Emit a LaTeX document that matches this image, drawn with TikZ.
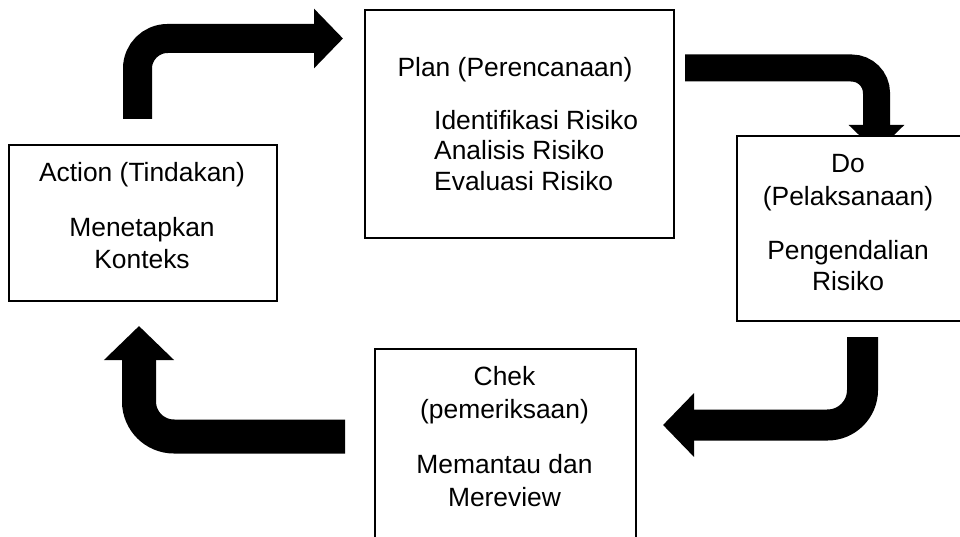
\documentclass[tikz,border=0pt]{standalone}
\usepackage{fontspec}
\setmainfont{Liberation Sans}
\usetikzlibrary{arrows.meta}
\tikzstyle{box} = [rectangle, draw=black, line width=2pt, fill=white, anchor=north west, inner sep=0pt]
\tikzstyle{boxtext} = [font=\fontsize{26.4}{32}\selectfont, align=center, anchor=base, inner sep=0pt]
\tikzstyle{bigarrow} = [-{Triangle[width=0pt 2, length=0pt 1]}]

\begin{document}
\begin{tikzpicture}[x=1pt, y=-1pt]
\useasboundingbox (0,0) rectangle (960,537);
% arrow ends
\coordinate (actout) at (137.5,119);
\coordinate (planin) at (343,38.5);
\coordinate (planout) at (685,68);
\coordinate (doin) at (876.5,152);
\coordinate (doout) at (862.5,337);
\coordinate (chekin) at (663,425);
\coordinate (chekout) at (345,436.5);
\coordinate (actin) at (139,326);
% the four arrows of the cycle
\draw [bigarrow, line width=29pt, rounded corners=30pt] (actout) |- (planin);
\draw [bigarrow, line width=27pt, rounded corners=25pt] (planout) -| (doin);
\draw [bigarrow, line width=31pt, rounded corners=35pt] (doout) |- (chekin);
\draw [bigarrow, line width=34pt, rounded corners=35pt] (chekout) -| (actin);
% boxes
\node (actionbox) [box, minimum width=268pt, minimum height=156pt] at (8,144) {};
\node (planbox) [box, minimum width=309pt, minimum height=228pt] at (364,9) {};
\node (dobox) [box, minimum width=230pt, minimum height=185pt] at (736,135) {};
\node (chekbox) [box, minimum width=261pt, minimum height=220pt] at (374,348) {};
% texts (base = last line)
\node (actiontext) [boxtext] at (142,268) {Action (Tindakan)\\[22pt]Menetapkan\\Konteks};
\node (plantitle) [boxtext] at (515,77) {Plan (Perencanaan)};
\node (planlist) [boxtext, font=\fontsize{26.4}{30.5}\selectfont, align=left, anchor=base west] at (434,190.5) {Identifikasi Risiko\\Analisis Risiko\\Evaluasi Risiko};
\node (dotext) [boxtext, font=\fontsize{26.4}{28}\selectfont] at (848,290) {Do\\[4pt](Pelaksanaan)\\[26pt]Pengendalian\\[3pt]Risiko};
\node (chektext) [boxtext, font=\fontsize{26.4}{33}\selectfont] at (504.5,506) {Chek\\(pemeriksaan)\\[22pt]Memantau dan\\Mereview};
\end{tikzpicture}
\end{document}
